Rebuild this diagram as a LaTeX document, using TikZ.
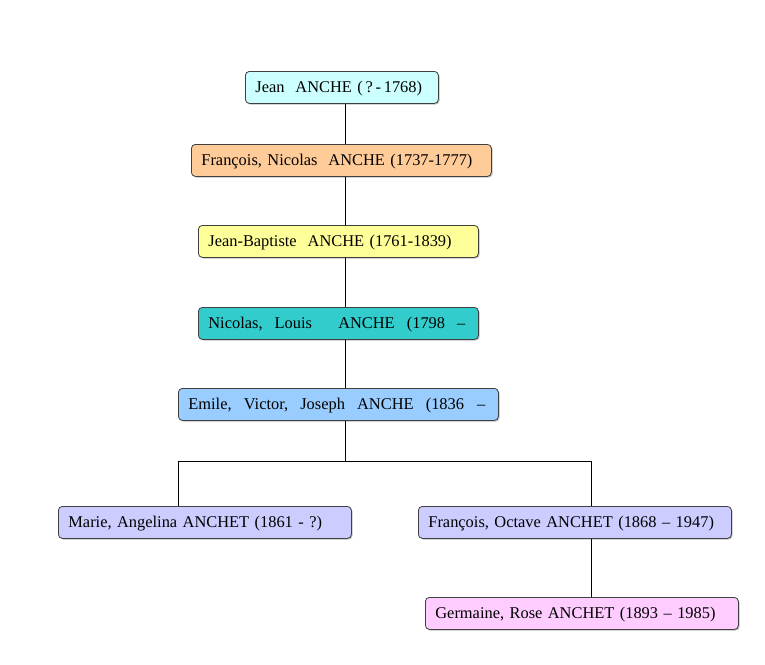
\documentclass[tikz,border=0pt]{standalone}
\usepackage{fontspec}
\setmainfont{Liberation Serif}
\usetikzlibrary{shadows}
\definecolor{cA}{HTML}{CCFFFF}
\definecolor{cB}{HTML}{FFCC99}
\definecolor{cC}{HTML}{FFFF99}
\definecolor{cD}{HTML}{33CCCC}
\definecolor{cE}{HTML}{99CCFF}
\definecolor{cF}{HTML}{CCCCFF}
\definecolor{cG}{HTML}{FFCCFF}
\definecolor{edgec}{HTML}{404040}
\begin{document}
\begin{tikzpicture}[x=1pt,y=-1pt,
  person/.style={draw=edgec, line width=0.8pt, rounded corners=4pt, minimum height=32pt,
    inner xsep=10pt, inner ysep=0pt, anchor=north west, align=left, font=\fontsize{16.4}{18}\selectfont,
    text height=11pt, text depth=0pt,
    drop shadow={shadow xshift=1.2pt, shadow yshift=-1.2pt, fill=black!25, opacity=1}},
  link/.style={draw=black, line width=0.6pt}]
\useasboundingbox (0,0) rectangle (765,664);
\node[person, fill=cA, text width=173pt] (n1) at (245,71) {Jean\ \ ANCHE (\,?\,-\,1768)};
\node[person, fill=cB, text width=280pt] (n2) at (191,144) {François, Nicolas\ \ ANCHE (1737-1777)};
\node[person, fill=cC, text width=260pt] (n3) at (198,225) {Jean-Baptiste\ \ ANCHE (1761-1839)};
\node[person, fill=cD, text width=260pt] (n4) at (198,307) {\makebox[257pt][s]{Nicolas,\hspace{10pt plus 1fil}Louis\hspace{22pt plus 2fil}ANCHE\hspace{10pt plus 1fil}(1798\hspace{10pt plus 1fil}–}};
\node[person, fill=cE, text width=300pt] (n5) at (178,388) {\makebox[297pt][s]{Emile,\hspace{9pt plus 1fil}Victor,\hspace{9pt plus 1fil}Joseph\hspace{9pt plus 1fil}ANCHE\hspace{9pt plus 1fil}(1836\hspace{10pt plus 1fil}–}};
\node[person, fill=cF, text width=273pt] (n6) at (58,506) {Marie, Angelina ANCHET (1861 - ?)};
\node[person, fill=cF, text width=293pt] (n7) at (418,506) {François, Octave ANCHET (1868 – 1947)};
\node[person, fill=cG, text width=293pt] (n8) at (425,597) {Germaine, Rose ANCHET (1893 – 1985)};
\coordinate (j) at (345,461);
\coordinate (jl) at (178,461);
\coordinate (jr) at (591,461);
\draw[link] (n1.south -| j) -- (n2.north -| j);
\draw[link] (n2.south -| j) -- (n3.north -| j);
\draw[link] (n3.south -| j) -- (n4.north -| j);
\draw[link] (n4.south -| j) -- (n5.north -| j);
\draw[link] (n5.south -| j) -- (j);
\draw[link] (jl) -- (jr);
\draw[link] (jl) -- (n6.north -| jl);
\draw[link] (jr) -- (n7.north -| jr);
\draw[link] (n7.south -| jr) -- (n8.north -| jr);
\end{tikzpicture}
\end{document}
